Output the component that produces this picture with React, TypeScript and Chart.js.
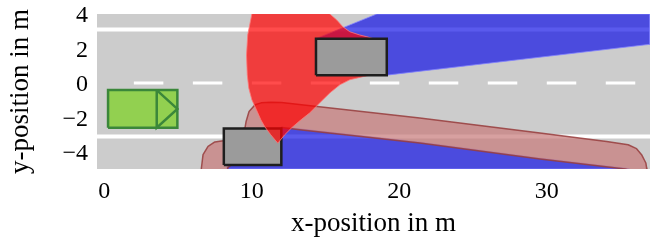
import React, { useEffect, useRef } from 'react';
import { Chart, registerables } from 'chart.js';

Chart.register(...registerables);

// ---- axes ----
const xRange = [-0.5, 37];
const yRange = [-5, 4];
const xTickValues = [0, 10, 20, 30];
const yTickValues = [-4, -2, 0, 2, 4];

// ---- road ----
const laneLineY = [3.1, -3.12];
const dashStarts = [2, 6, 10, 14, 18, 22, 26, 30, 34];
const dashLength = 2;

// ---- vehicles ----
const egoX = [0.25, 4.95];
const egoY = [-2.6, -0.42];
const egoArrowBaseX = 3.55;
const obstacle1X = [14.35, 19.15];
const obstacle1Y = [0.45, 2.57];
const obstacle2X = [8.1, 12.0];
const obstacle2Y = [-4.77, -2.65];

// ---- occluded areas (blue) ----
const shadowTopX = [14.35, 18.48, 37, 37, 19.15, 14.35];
const shadowTopY = [2.57, 4.0, 4.0, 2.24, 0.45, 2.57];
const shadowBottomX = [8.3, 12.0, 13.25, 21.39, 29.54, 35.3, 35.6, 8.3, 8.3];
const shadowBottomY = [-4.75, -2.55, -2.67, -3.44, -4.37, -4.95, -5.0, -5.0, -4.75];

// ---- predicted occupancy (red fan) ----
const fanX = [11.76, 11.28, 10.88, 10.61, 10.31, 10.0, 9.79, 9.69, 9.64, 9.72, 10.07, 14.89, 15.76, 16.17, 16.64, 17.32, 17.8, 18.3, 18.0, 17.32, 16.64, 15.97, 15.29, 14.61, 13.93, 13.25, 12.71, 12.23, 11.76];
const fanY = [-3.5, -3.01, -2.55, -2.14, -1.56, -0.98, -0.29, 0.47, 1.62, 2.78, 4.3, 4.3, 3.65, 3.26, 2.97, 2.78, 2.68, 2.55, 0.45, 0.32, 0.18, -0.11, -0.58, -1.16, -1.74, -2.2, -2.6, -3.01, -3.5];

// ---- predicted occupancy (brown band) ----
const bandX = [12.01, 21.39, 29.54, 34.06, 35.52, 36.09, 36.43, 36.72, 36.77, 36.79, 35.3, 29.54, 21.39, 13.25, 12.03, 8.37, 8.37, 6.54, 6.58, 6.69, 7.03, 7.49, 8.05, 9.54, 9.61, 9.81, 10.22, 10.63, 11.3, 12.01];
const bandY = [-1.14, -2.04, -2.91, -3.40, -3.59, -3.82, -4.17, -4.65, -4.94, -5.33, -5.0, -4.42, -3.49, -2.72, -2.59, -4.92, -5.33, -5.33, -4.94, -4.17, -3.69, -3.43, -3.36, -2.6, -2.24, -1.66, -1.27, -1.16, -1.13, -1.14];

const FONT = "'Liberation Serif', 'Times New Roman', 'DejaVu Serif', serif";

type P = { x: number; y: number | null };

const zip = (xs: number[], ys: number[]): P[] => xs.map((x, i) => ({ x, y: ys[i] }));
const rect = (xr: number[], yr: number[]): P[] => [
  { x: xr[0], y: yr[0] },
  { x: xr[1], y: yr[0] },
  { x: xr[1], y: yr[1] },
  { x: xr[0], y: yr[1] },
  { x: xr[0], y: yr[0] },
];

function poly(data: P[], fillColor: string | null, borderColor: string, borderWidth: number, join: CanvasLineJoin = 'round') {
  return {
    data,
    fill: fillColor ? 'shape' : false,
    backgroundColor: fillColor || 'transparent',
    borderColor,
    borderWidth,
    borderJoinStyle: join,
    borderCapStyle: 'butt',
    pointRadius: 0,
    tension: 0,
    spanGaps: false,
    clip: 0,
  };
}

function buildDatasets() {
  const laneData: P[] = [];
  laneLineY.forEach((y) => {
    laneData.push({ x: xRange[0], y }, { x: xRange[1], y }, { x: xRange[1], y: null });
  });
  const dashData: P[] = [];
  dashStarts.forEach((s) => {
    dashData.push({ x: s, y: 0 }, { x: s + dashLength, y: 0 }, { x: s + dashLength, y: null });
  });
  const egoMid = (egoY[0] + egoY[1]) / 2;
  const arrow: P[] = [
    { x: egoArrowBaseX, y: egoY[1] },
    { x: egoX[1], y: egoMid },
    { x: egoArrowBaseX, y: egoY[0] },
    { x: egoArrowBaseX, y: egoY[1] },
  ];

  const list: any[] = [
    poly(rect(xRange, yRange), '#cccccc', 'rgba(0,0,0,0)', 0, 'miter'),
    poly(laneData, null, '#ffffff', 4),
    poly(dashData, null, '#ffffff', 3),
    poly(zip(shadowTopX, shadowTopY), 'rgba(20,20,230,0.7)', 'rgba(130,130,255,0.8)', 1),
    poly(zip(shadowBottomX, shadowBottomY), 'rgba(20,20,230,0.7)', 'rgba(130,130,255,0.8)', 1),
    poly(zip(bandX, bandY), 'rgba(200,124,124,0.72)', 'rgba(150,60,60,0.85)', 1.5),
    poly(rect(obstacle2X, obstacle2Y), '#9b9b9b', '#1e1e1e', 2.5, 'miter'),
    poly(zip(fanX, fanY), 'rgba(255,0,0,0.7)', 'rgba(255,120,120,0.8)', 1),
    poly(rect(obstacle1X, obstacle1Y), '#9b9b9b', '#1e1e1e', 2.5, 'miter'),
    poly(rect(egoX, egoY), '#92d050', '#3b873a', 2.5, 'miter'),
    poly(arrow, null, '#3b873a', 2.5, 'miter'),
  ];
  const n = list.length;
  return list.map((d, i) => ({ ...d, order: n - i }));
}

const fmt = (v: number | string) => {
  const n = Number(v);
  return n < 0 ? '\u2212' + Math.abs(n) : String(n);
};

export default function App() {
  const ref = useRef<HTMLCanvasElement>(null);
  useEffect(() => {
    document.body.style.margin = '0';
    let chart: Chart | null = null;
    let cancelled = false;
    const make = () => {
      if (cancelled || !ref.current) return;
      chart = new Chart(ref.current, {
        type: 'line',
        data: { datasets: buildDatasets() as any },
        options: {
          animation: false,
          responsive: false,
          devicePixelRatio: 1,
          layout: { padding: { top: 14, right: 11, bottom: 0, left: 0 } },
          plugins: { legend: { display: false }, tooltip: { enabled: false } },
          elements: { point: { radius: 0 } },
          scales: {
            x: {
              type: 'linear',
              min: xRange[0],
              max: xRange[1],
              grid: { display: false, drawTicks: false },
              border: { display: false },
              afterBuildTicks: (s: any) => {
                s.ticks = xTickValues.map((v) => ({ value: v }));
              },
              afterFit: (s: any) => {
                s.height = 74;
                s.paddingLeft = 0;
                s.paddingRight = 0;
              },
              ticks: {
                font: { family: FONT, size: 24 },
                color: '#000',
                padding: 8,
                maxRotation: 0,
                autoSkip: false,
                callback: fmt,
              },
              title: {
                display: true,
                text: 'x-position in m',
                font: { family: FONT, size: 27 },
                color: '#000',
                padding: { top: 0, bottom: 3 },
              },
            },
            y: {
              type: 'linear',
              min: yRange[0],
              max: yRange[1],
              grid: { display: false, drawTicks: false },
              border: { display: false },
              afterBuildTicks: (s: any) => {
                s.ticks = yTickValues.map((v) => ({ value: v }));
              },
              afterFit: (s: any) => {
                s.width = 97;
                s.paddingTop = 0;
                s.paddingBottom = 0;
              },
              ticks: {
                font: { family: FONT, size: 24 },
                color: '#000',
                padding: 9,
                labelOffset: 2,
                autoSkip: false,
                callback: fmt,
              },
              title: {
                display: true,
                text: 'y-position in m',
                font: { family: FONT, size: 27 },
                color: '#000',
                padding: { top: 5, bottom: 0 },
              },
            },
          },
        } as any,
      });
    };
    const fontsApi = (document as any).fonts;
    if (fontsApi && fontsApi.load) {
      Promise.all([
        fontsApi.load("24px 'Liberation Serif'"),
        fontsApi.load("27px 'Liberation Serif'"),
      ]).then(make, make);
    } else {
      make();
    }
    return () => {
      cancelled = true;
      if (chart) chart.destroy();
    };
  }, []);
  return <canvas ref={ref} width={661} height={243} style={{ display: 'block', width: 661, height: 243 }} />;
}
